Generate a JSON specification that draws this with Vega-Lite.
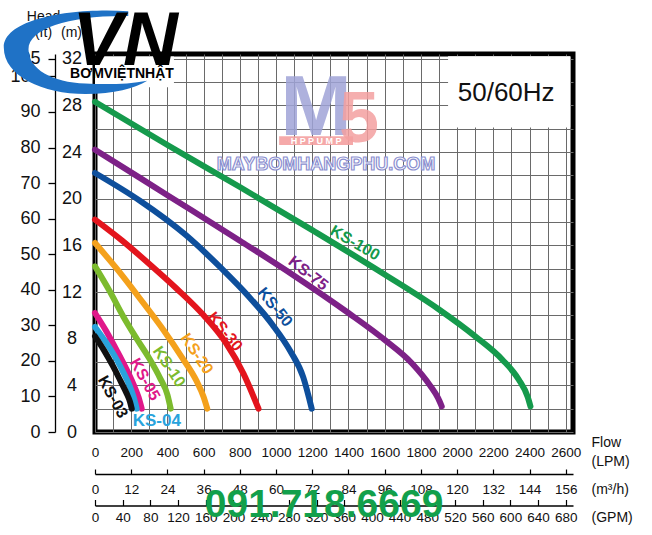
{
  "$schema": "https://vega.github.io/schema/vega-lite/v6.json",
  "width": 478,
  "height": 378,
  "autosize": {"type": "none"},
  "padding": {"left": 95, "top": 54, "right": 79, "bottom": 103},
  "background": "white",
  "config": {
    "view": {"stroke": "#000", "strokeWidth": 5},
    "axis": {"labelFont": "Liberation Sans", "titleFont": "Liberation Sans", "labelColor": "#111", "titleColor": "#111"},
    "text": {"font": "Liberation Sans"}
  },
  "datasets": {
    "curves": [
      {"series": "KS-100", "lpm": 0, "m": 28.3}, {"series": "KS-100", "lpm": 400, "m": 24.6}, {"series": "KS-100", "lpm": 800, "m": 21.0}, {"series": "KS-100", "lpm": 1200, "m": 17.3}, {"series": "KS-100", "lpm": 1600, "m": 13.5}, {"series": "KS-100", "lpm": 1900, "m": 10.5}, {"series": "KS-100", "lpm": 2100, "m": 8.2}, {"series": "KS-100", "lpm": 2250, "m": 6.2}, {"series": "KS-100", "lpm": 2340, "m": 4.5}, {"series": "KS-100", "lpm": 2390, "m": 3.0}, {"series": "KS-100", "lpm": 2405, "m": 2.2},
      {"series": "KS-75", "lpm": 0, "m": 24.2}, {"series": "KS-75", "lpm": 400, "m": 20.3}, {"series": "KS-75", "lpm": 800, "m": 16.4}, {"series": "KS-75", "lpm": 1100, "m": 13.4}, {"series": "KS-75", "lpm": 1400, "m": 10.2}, {"series": "KS-75", "lpm": 1600, "m": 7.9}, {"series": "KS-75", "lpm": 1750, "m": 5.9}, {"series": "KS-75", "lpm": 1850, "m": 4.0}, {"series": "KS-75", "lpm": 1895, "m": 2.9}, {"series": "KS-75", "lpm": 1915, "m": 2.2},
      {"series": "KS-50", "lpm": 0, "m": 22.2}, {"series": "KS-50", "lpm": 250, "m": 19.8}, {"series": "KS-50", "lpm": 500, "m": 16.9}, {"series": "KS-50", "lpm": 700, "m": 14.0}, {"series": "KS-50", "lpm": 850, "m": 11.6}, {"series": "KS-50", "lpm": 980, "m": 9.2}, {"series": "KS-50", "lpm": 1080, "m": 6.9}, {"series": "KS-50", "lpm": 1150, "m": 4.7}, {"series": "KS-50", "lpm": 1197, "m": 2.0},
      {"series": "KS-30", "lpm": 0, "m": 18.2}, {"series": "KS-30", "lpm": 150, "m": 16.4}, {"series": "KS-30", "lpm": 300, "m": 14.4}, {"series": "KS-30", "lpm": 450, "m": 12.3}, {"series": "KS-30", "lpm": 600, "m": 10.0}, {"series": "KS-30", "lpm": 720, "m": 7.7}, {"series": "KS-30", "lpm": 820, "m": 5.0}, {"series": "KS-30", "lpm": 903, "m": 2.0},
      {"series": "KS-20", "lpm": 0, "m": 16.2}, {"series": "KS-20", "lpm": 120, "m": 14.0}, {"series": "KS-20", "lpm": 250, "m": 11.4}, {"series": "KS-20", "lpm": 380, "m": 8.7}, {"series": "KS-20", "lpm": 480, "m": 6.4}, {"series": "KS-20", "lpm": 560, "m": 4.4}, {"series": "KS-20", "lpm": 600, "m": 3.0}, {"series": "KS-20", "lpm": 620, "m": 2.0},
      {"series": "KS-10", "lpm": 0, "m": 14.2}, {"series": "KS-10", "lpm": 80, "m": 12.1}, {"series": "KS-10", "lpm": 156, "m": 9.9}, {"series": "KS-10", "lpm": 230, "m": 8.0}, {"series": "KS-10", "lpm": 300, "m": 6.3}, {"series": "KS-10", "lpm": 360, "m": 4.6}, {"series": "KS-10", "lpm": 400, "m": 3.2}, {"series": "KS-10", "lpm": 418, "m": 2.0},
      {"series": "KS-05", "lpm": 0, "m": 10.2}, {"series": "KS-05", "lpm": 60, "m": 8.7}, {"series": "KS-05", "lpm": 120, "m": 7.0}, {"series": "KS-05", "lpm": 170, "m": 5.5}, {"series": "KS-05", "lpm": 212, "m": 4.1}, {"series": "KS-05", "lpm": 240, "m": 3.0}, {"series": "KS-05", "lpm": 258, "m": 2.0},
      {"series": "KS-04", "lpm": 0, "m": 9.0}, {"series": "KS-04", "lpm": 60, "m": 7.7}, {"series": "KS-04", "lpm": 120, "m": 6.2}, {"series": "KS-04", "lpm": 160, "m": 5.0}, {"series": "KS-04", "lpm": 193, "m": 3.9}, {"series": "KS-04", "lpm": 215, "m": 2.9}, {"series": "KS-04", "lpm": 230, "m": 2.0},
      {"series": "KS-03", "lpm": 0, "m": 8.2}, {"series": "KS-03", "lpm": 50, "m": 7.0}, {"series": "KS-03", "lpm": 101, "m": 5.6}, {"series": "KS-03", "lpm": 140, "m": 4.4}, {"series": "KS-03", "lpm": 175, "m": 3.3}, {"series": "KS-03", "lpm": 193, "m": 2.6}, {"series": "KS-03", "lpm": 203, "m": 2.0}
    ],
    "labels": [
      {"series": "KS-100", "lpm": 1436, "m": 16.2},
      {"series": "KS-75", "lpm": 1177, "m": 13.6},
      {"series": "KS-50", "lpm": 994, "m": 10.7},
      {"series": "KS-30", "lpm": 718, "m": 8.6},
      {"series": "KS-20", "lpm": 562, "m": 6.7},
      {"series": "KS-10", "lpm": 409, "m": 5.6},
      {"series": "KS-05", "lpm": 276, "m": 4.5},
      {"series": "KS-03", "lpm": 98, "m": 3.0},
      {"series": "KS-04", "lpm": 341, "m": 0.95}
    ]
  },
  "layer": [
    {
      "data": {"values": [{"box": "freq"}]},
      "mark": {"type": "rect", "fill": "white"},
      "encoding": {
        "x": {"datum": 1950, "type": "quantitative", "axis": null},
        "x2": {"datum": 2625},
        "y": {"datum": 26.1, "type": "quantitative", "axis": null},
        "y2": {"datum": 32.2}
      }
    },
    {
      "data": {"name": "curves"},
      "mark": {"type": "line", "strokeWidth": 6, "strokeCap": "round", "strokeJoin": "round", "interpolate": "monotone"},
      "encoding": {
        "x": {
          "field": "lpm", "type": "quantitative",
          "scale": {"domain": [0, 2640], "nice": false, "zero": false},
          "axis": {
            "orient": "bottom",
            "values": [0,100,200,300,400,500,600,700,800,900,1000,1100,1200,1300,1400,1500,1600,1700,1800,1900,2000,2100,2200,2300,2400,2500,2600],
            "labelExpr": "datum.value % 200 === 0 ? datum.label : ''",
            "format": "d",
            "grid": true, "gridColor": "#6a6a6a", "gridWidth": 1, "gridOpacity": 1,
            "domain": false, "ticks": false, "tickSize": 0,
            "labelPadding": 20, "labelBaseline": "middle", "labelFontSize": 13.5,
            "labelFlush": false, "labelOverlap": false,
            "title": ["Flow", "(LPM)"],
            "titleX": 496, "titleY": 10.5, "titleAlign": "left", "titleBaseline": "middle",
            "titleFontSize": 14, "titleFontWeight": "normal", "titleLineHeight": 19
          }
        },
        "y": {
          "field": "m", "type": "quantitative",
          "scale": {"domain": [0, 32.4], "nice": false, "zero": false},
          "axis": {
            "orient": "left",
            "values": [0,2,4,6,8,10,12,14,16,18,20,22,24,26,28,30,32],
            "labelExpr": "datum.value % 4 === 0 ? datum.label : ''",
            "format": "d",
            "grid": true, "gridColor": "#6a6a6a", "gridWidth": 1, "gridOpacity": 1,
            "domain": false, "ticks": false, "tickSize": 0,
            "labelAlign": "center", "labelPadding": 23.5, "labelBaseline": "middle", "labelFontSize": 18,
            "labelFlush": false, "labelOverlap": false,
            "title": "(m)", "titleAngle": 0, "titleX": -24, "titleY": -22,
            "titleAlign": "center", "titleBaseline": "middle", "titleFontSize": 14, "titleFontWeight": "normal"
          }
        },
        "color": {
          "field": "series", "type": "nominal",
          "scale": {
            "domain": ["KS-03", "KS-04", "KS-05", "KS-10", "KS-20", "KS-30", "KS-50", "KS-75", "KS-100"],
            "range": ["#111111", "#29a3dc", "#e0188a", "#7cbb2e", "#f4a11c", "#e3151d", "#0e4f9c", "#7d2187", "#159a4c"]
          },
          "legend": null
        }
      }
    },
    {
      "data": {"name": "labels"},
      "transform": [{"filter": "datum.series === 'KS-100'"}],
      "mark": {"type": "text", "fontWeight": "bold", "fontSize": 16, "angle": 30, "align": "center", "baseline": "middle"},
      "encoding": {"x": {"field": "lpm", "type": "quantitative", "axis": null}, "y": {"field": "m", "type": "quantitative", "axis": null}, "text": {"field": "series"}, "color": {"field": "series", "type": "nominal", "legend": null}}
    },
    {
      "data": {"name": "labels"},
      "transform": [{"filter": "datum.series === 'KS-75'"}],
      "mark": {"type": "text", "fontWeight": "bold", "fontSize": 16, "angle": 38, "align": "center", "baseline": "middle"},
      "encoding": {"x": {"field": "lpm", "type": "quantitative", "axis": null}, "y": {"field": "m", "type": "quantitative", "axis": null}, "text": {"field": "series"}, "color": {"field": "series", "type": "nominal", "legend": null}}
    },
    {
      "data": {"name": "labels"},
      "transform": [{"filter": "datum.series === 'KS-50' || datum.series === 'KS-30'"}],
      "mark": {"type": "text", "fontWeight": "bold", "fontSize": 16, "angle": 51, "align": "center", "baseline": "middle"},
      "encoding": {"x": {"field": "lpm", "type": "quantitative", "axis": null}, "y": {"field": "m", "type": "quantitative", "axis": null}, "text": {"field": "series"}, "color": {"field": "series", "type": "nominal", "legend": null}}
    },
    {
      "data": {"name": "labels"},
      "transform": [{"filter": "datum.series === 'KS-20' || datum.series === 'KS-10'"}],
      "mark": {"type": "text", "fontWeight": "bold", "fontSize": 16, "angle": 56, "align": "center", "baseline": "middle"},
      "encoding": {"x": {"field": "lpm", "type": "quantitative", "axis": null}, "y": {"field": "m", "type": "quantitative", "axis": null}, "text": {"field": "series"}, "color": {"field": "series", "type": "nominal", "legend": null}}
    },
    {
      "data": {"name": "labels"},
      "transform": [{"filter": "datum.series === 'KS-05' || datum.series === 'KS-03'"}],
      "mark": {"type": "text", "fontWeight": "bold", "fontSize": 16, "angle": 61, "align": "center", "baseline": "middle"},
      "encoding": {"x": {"field": "lpm", "type": "quantitative", "axis": null}, "y": {"field": "m", "type": "quantitative", "axis": null}, "text": {"field": "series"}, "color": {"field": "series", "type": "nominal", "legend": null}}
    },
    {
      "data": {"name": "labels"},
      "transform": [{"filter": "datum.series === 'KS-04'"}],
      "mark": {"type": "text", "fontWeight": "bold", "fontSize": 17, "angle": 0, "align": "center", "baseline": "middle"},
      "encoding": {"x": {"field": "lpm", "type": "quantitative", "axis": null}, "y": {"field": "m", "type": "quantitative", "axis": null}, "text": {"field": "series"}, "color": {"field": "series", "type": "nominal", "legend": null}}
    },
    {
      "data": {"values": [{"t": "50/60Hz"}]},
      "mark": {"type": "text", "fontSize": 26, "align": "center", "baseline": "middle", "color": "#111"},
      "encoding": {"x": {"datum": 2271, "type": "quantitative", "axis": null}, "y": {"datum": 29.05, "type": "quantitative", "axis": null}, "text": {"field": "t"}}
    },
    {
      "data": {"values": [{"t": "M"}]},
      "mark": {"type": "text", "fontSize": 86, "fontWeight": "bold", "align": "center", "baseline": "alphabetic", "color": "#a0a4d8", "opacity": 0.85},
      "encoding": {"x": {"datum": 1221, "type": "quantitative", "axis": null}, "y": {"datum": 25.45, "type": "quantitative", "axis": null}, "text": {"field": "t"}}
    },
    {
      "data": {"values": [{"t": "5"}]},
      "mark": {"type": "text", "fontSize": 72, "fontWeight": "bold", "align": "center", "baseline": "alphabetic", "color": "#f4a0a0", "opacity": 0.85},
      "encoding": {"x": {"datum": 1458, "type": "quantitative", "axis": null}, "y": {"datum": 24.85, "type": "quantitative", "axis": null}, "text": {"field": "t"}}
    },
    {
      "data": {"values": [{"box": "hppump"}]},
      "mark": {"type": "rect", "fill": "#f4a0a0", "opacity": 0.9},
      "encoding": {"x": {"datum": 1017, "type": "quantitative", "axis": null}, "x2": {"datum": 1425}, "y": {"datum": 24.6, "type": "quantitative", "axis": null}, "y2": {"datum": 25.36}}
    },
    {
      "data": {"values": [{"t": "H P P U M P"}]},
      "mark": {"type": "text", "fontSize": 9, "fontWeight": "bold", "align": "center", "baseline": "middle", "color": "white"},
      "encoding": {"x": {"datum": 1221, "type": "quantitative", "axis": null}, "y": {"datum": 24.98, "type": "quantitative", "axis": null}, "text": {"field": "t"}}
    },
    {
      "data": {"values": [{"t": "MAYBOMHANGPHU.COM"}]},
      "mark": {"type": "text", "fontSize": 18, "fontWeight": "bold", "align": "center", "baseline": "alphabetic", "fill": "white", "stroke": "#8c90d0", "strokeWidth": 1.2},
      "encoding": {"x": {"datum": 1276, "type": "quantitative", "axis": null}, "y": {"datum": 22.45, "type": "quantitative", "axis": null}, "text": {"field": "t"}}
    },
    {
      "data": {"values": [{"t": "091.718.6669"}]},
      "mark": {"type": "text", "fontSize": 39, "fontWeight": "bold", "align": "center", "baseline": "alphabetic", "color": "#12a04b"},
      "encoding": {"x": {"datum": 1265, "type": "quantitative", "axis": null}, "y": {"datum": -7.3, "type": "quantitative", "axis": null}, "text": {"field": "t"}}
    },
    {
      "data": {"values": [{"box": "logo"}]},
      "mark": {"type": "rect", "fill": "white"},
      "encoding": {"x": {"datum": 0, "type": "quantitative", "axis": null}, "x2": {"datum": 436}, "y": {"datum": 29.56, "type": "quantitative", "axis": null}, "y2": {"datum": 32.18}}
    },
    {
      "data": {"values": [{"t": "swoosh"}]},
      "mark": {"type": "point", "filled": true, "size": 36100, "opacity": 1, "color": "#1f72c6", "shape": "M 0.35,-0.43 C -0.25,-0.47 -0.96,-0.35 -0.96,-0.05 C -0.96,0.25 -0.55,0.44 -0.1,0.44 C 0.2,0.44 0.42,0.38 0.55,0.3 C 0.35,0.34 0.1,0.34 -0.1,0.33 C -0.45,0.32 -0.7,0.18 -0.7,-0.03 C -0.7,-0.25 -0.25,-0.39 0.35,-0.38 Z"},
      "encoding": {"x": {"datum": 0, "type": "quantitative", "axis": null}, "y": {"datum": 32.56, "type": "quantitative", "axis": null}}
    },
    {
      "data": {"values": [{"t": "VN"}]},
      "mark": {"type": "text", "fontSize": 76, "fontWeight": "bold", "fontStyle": "italic", "align": "center", "baseline": "alphabetic", "color": "#000"},
      "encoding": {"x": {"datum": 166, "type": "quantitative", "axis": null}, "y": {"datum": 31.45, "type": "quantitative", "axis": null}, "text": {"field": "t"}}
    },
    {
      "data": {"values": [{"t": "BƠMVIỆTNHẬT"}]},
      "mark": {"type": "text", "fontSize": 14, "fontWeight": "bold", "align": "center", "baseline": "alphabetic", "color": "#000"},
      "encoding": {"x": {"datum": 149, "type": "quantitative", "axis": null}, "y": {"datum": 30.33, "type": "quantitative", "axis": null}, "text": {"field": "t"}}
    },
    {
      "data": {"values": [{"axis": "ft"}]},
      "mark": {"type": "point", "opacity": 0},
      "encoding": {
        "y": {
          "datum": 0, "type": "quantitative",
          "axis": {
            "orient": "left", "offset": 40,
            "values": [0, 3.048, 6.096, 9.144, 12.192, 15.24, 18.288, 21.336, 24.384, 27.432, 30.48, 32.004],
            "labelExpr": "format(round(datum.value / 0.3048), 'd')",
            "grid": false,
            "domain": true, "domainColor": "#000", "domainWidth": 1.3,
            "ticks": true, "tickColor": "#000", "tickWidth": 1.3, "tickSize": 7,
            "labelAlign": "right", "labelPadding": 8, "labelBaseline": "middle", "labelFontSize": 18,
            "labelFlush": false, "labelOverlap": false,
            "title": ["Head", "(ft)"], "titleAngle": 0, "titleX": -12, "titleY": -38,
            "titleAlign": "center", "titleBaseline": "middle", "titleFontSize": 14, "titleFontWeight": "normal", "titleLineHeight": 16
          }
        }
      }
    },
    {
      "data": {"values": [{"axis": "m3h"}]},
      "mark": {"type": "point", "opacity": 0},
      "encoding": {
        "x": {
          "datum": 0, "type": "quantitative",
          "axis": {
            "orient": "bottom", "offset": 42,
            "values": [0,200,400,600,800,1000,1200,1400,1600,1800,2000,2200,2400,2600],
            "labelExpr": "format(round(datum.value * 0.06), 'd')",
            "grid": false,
            "domain": true, "domainColor": "#000", "domainWidth": 1.5,
            "ticks": true, "tickColor": "#000", "tickWidth": 1.2, "tickSize": -5,
            "labelPadding": 20, "labelBaseline": "middle", "labelFontSize": 13.5,
            "labelFlush": false, "labelOverlap": false,
            "title": "(m³/h)", "titleX": 496, "titleY": 15, "titleAlign": "left", "titleBaseline": "middle",
            "titleFontSize": 14, "titleFontWeight": "normal"
          }
        }
      }
    },
    {
      "data": {"values": [{"axis": "gpm"}]},
      "mark": {"type": "point", "opacity": 0},
      "encoding": {
        "x": {
          "datum": 0, "type": "quantitative",
          "axis": {
            "orient": "bottom", "offset": 73.5,
            "values": [0, 152.94, 305.88, 458.82, 611.76, 764.71, 917.65, 1070.59, 1223.53, 1376.47, 1529.41, 1682.35, 1835.29, 1988.24, 2141.18, 2294.12, 2447.06, 2600],
            "labelExpr": "format(round(datum.value * 680 / 2600), 'd')",
            "grid": false,
            "domain": true, "domainColor": "#000", "domainWidth": 1.5,
            "ticks": true, "tickColor": "#000", "tickWidth": 1.2, "tickSize": -6,
            "labelPadding": 17.5, "labelBaseline": "middle", "labelFontSize": 13.5,
            "labelFlush": false, "labelOverlap": false,
            "title": "(GPM)", "titleX": 496, "titleY": 11.5, "titleAlign": "left", "titleBaseline": "middle",
            "titleFontSize": 14, "titleFontWeight": "normal"
          }
        }
      }
    }
  ],
  "resolve": {"axis": {"x": "independent", "y": "independent"}}
}
